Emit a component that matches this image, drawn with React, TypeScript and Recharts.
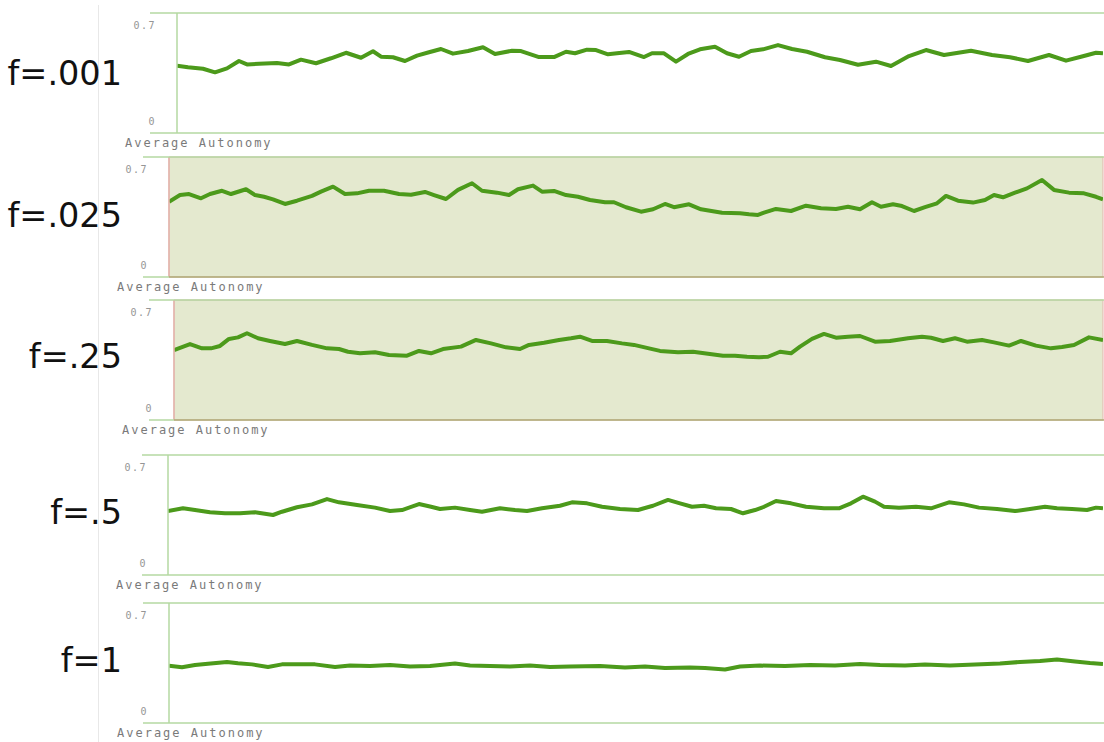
import { LineChart, Line, XAxis, YAxis, ReferenceArea } from "recharts";

const FREQ_LABELS = ["f=.001", "f=.025", "f=.25", "f=.5", "f=1"];
const Y_TICKS = [0, 0.7];
const AXIS_TITLE = "Average Autonomy";

// [step, average autonomy] for each mutation frequency
const RUN_001: [number, number][] = [
  [0, 0.393], [11, 0.383], [26, 0.375], [38, 0.354], [50, 0.377], [62, 0.42], [70, 0.4], [82, 0.404],
  [100, 0.408], [112, 0.4], [124, 0.428], [139, 0.407], [154, 0.436], [169, 0.468], [184, 0.439],
  [196, 0.477], [204, 0.445], [216, 0.442], [228, 0.42], [240, 0.451], [252, 0.471], [264, 0.49],
  [276, 0.463], [291, 0.478], [306, 0.5], [318, 0.461], [335, 0.48], [344, 0.478], [362, 0.443],
  [377, 0.443], [389, 0.474], [398, 0.465], [410, 0.486], [419, 0.484], [431, 0.459], [440, 0.465],
  [452, 0.473], [467, 0.443], [475, 0.465], [487, 0.465], [499, 0.416], [511, 0.461], [523, 0.488],
  [538, 0.503], [550, 0.465], [562, 0.445], [574, 0.478], [586, 0.488], [601, 0.513], [615, 0.49],
  [630, 0.474], [648, 0.442], [663, 0.426], [681, 0.398], [699, 0.416], [714, 0.391], [732, 0.449],
  [749, 0.484], [767, 0.455], [794, 0.48], [815, 0.455], [833, 0.442], [851, 0.42], [872, 0.455],
  [889, 0.422], [904, 0.445], [919, 0.468], [926, 0.465],
];

const RUN_025: [number, number][] = [
  [0, 0.439], [11, 0.478], [20, 0.484], [32, 0.459], [41, 0.484], [53, 0.503], [62, 0.484], [77, 0.512],
  [86, 0.478], [95, 0.468], [104, 0.453], [116, 0.426], [128, 0.445], [143, 0.473], [152, 0.498],
  [164, 0.527], [176, 0.484], [188, 0.488], [200, 0.503], [215, 0.503], [230, 0.484], [242, 0.48],
  [256, 0.496], [265, 0.478], [277, 0.455], [289, 0.508], [303, 0.547], [313, 0.503], [328, 0.492],
  [340, 0.478], [349, 0.512], [364, 0.533], [373, 0.498], [385, 0.502], [397, 0.478], [409, 0.468],
  [421, 0.449], [436, 0.436], [445, 0.436], [457, 0.407], [472, 0.381], [484, 0.395], [496, 0.426],
  [505, 0.407], [520, 0.424], [532, 0.395], [553, 0.375], [571, 0.372], [580, 0.366], [589, 0.362],
  [595, 0.375], [607, 0.397], [622, 0.385], [637, 0.416], [652, 0.401], [667, 0.397], [679, 0.41],
  [691, 0.395], [703, 0.436], [712, 0.41], [724, 0.424], [733, 0.414], [745, 0.385], [756, 0.407],
  [768, 0.43], [777, 0.473], [789, 0.445], [804, 0.434], [816, 0.449], [825, 0.478], [834, 0.465],
  [846, 0.492], [858, 0.517], [873, 0.566], [885, 0.508], [900, 0.492], [915, 0.488], [927, 0.468],
  [934, 0.453],
];

const RUN_25: [number, number][] = [
  [0, 0.408], [16, 0.443], [28, 0.418], [37, 0.418], [46, 0.432], [55, 0.473], [64, 0.482], [73, 0.506],
  [84, 0.477], [96, 0.461], [111, 0.443], [123, 0.461], [138, 0.438], [153, 0.418], [165, 0.414],
  [174, 0.398], [186, 0.389], [201, 0.395], [215, 0.379], [233, 0.375], [245, 0.403], [257, 0.389],
  [269, 0.414], [287, 0.428], [302, 0.467], [317, 0.447], [332, 0.424], [346, 0.414], [355, 0.438],
  [370, 0.451], [385, 0.467], [397, 0.477], [406, 0.486], [418, 0.461], [433, 0.461], [448, 0.447],
  [460, 0.438], [475, 0.418], [486, 0.403], [504, 0.395], [519, 0.398], [534, 0.387], [549, 0.375],
  [561, 0.375], [573, 0.369], [585, 0.366], [594, 0.369], [606, 0.398], [617, 0.389], [626, 0.428],
  [638, 0.473], [650, 0.502], [662, 0.48], [674, 0.486], [686, 0.49], [701, 0.457], [716, 0.461],
  [734, 0.477], [748, 0.486], [757, 0.48], [769, 0.461], [781, 0.477], [793, 0.457], [808, 0.467],
  [820, 0.453], [835, 0.434], [847, 0.461], [862, 0.434], [877, 0.418], [888, 0.426], [900, 0.438],
  [915, 0.482], [929, 0.467],
];

const RUN_5: [number, number][] = [
  [0, 0.373], [15, 0.389], [27, 0.379], [42, 0.366], [57, 0.36], [72, 0.36], [87, 0.366], [105, 0.35],
  [114, 0.369], [129, 0.395], [144, 0.412], [159, 0.443], [171, 0.424], [189, 0.408], [207, 0.393],
  [222, 0.373], [234, 0.379], [251, 0.414], [263, 0.398], [272, 0.385], [287, 0.393], [302, 0.379],
  [314, 0.369], [332, 0.389], [347, 0.379], [359, 0.373], [374, 0.389], [392, 0.404], [404, 0.424],
  [419, 0.418], [434, 0.398], [452, 0.385], [470, 0.379], [485, 0.404], [500, 0.438], [512, 0.418],
  [524, 0.398], [536, 0.404], [548, 0.389], [563, 0.385], [575, 0.36], [587, 0.379], [596, 0.398],
  [608, 0.432], [623, 0.418], [638, 0.398], [656, 0.389], [671, 0.389], [683, 0.418], [695, 0.457],
  [707, 0.428], [716, 0.398], [731, 0.393], [748, 0.398], [763, 0.389], [781, 0.424], [796, 0.412],
  [811, 0.393], [829, 0.385], [847, 0.373], [862, 0.385], [877, 0.398], [889, 0.389], [904, 0.385],
  [919, 0.379], [928, 0.393], [935, 0.389],
];

const RUN_1: [number, number][] = [
  [0, 0.334], [13, 0.325], [26, 0.338], [39, 0.346], [58, 0.356], [69, 0.348], [83, 0.342], [99, 0.327],
  [113, 0.342], [133, 0.342], [146, 0.342], [166, 0.327], [181, 0.335], [201, 0.333], [221, 0.338],
  [241, 0.33], [261, 0.333], [286, 0.347], [301, 0.335], [321, 0.333], [341, 0.33], [361, 0.335],
  [381, 0.327], [401, 0.33], [431, 0.333], [456, 0.324], [476, 0.33], [496, 0.321], [521, 0.324],
  [536, 0.321], [556, 0.312], [571, 0.33], [591, 0.335], [616, 0.333], [641, 0.338], [666, 0.335],
  [691, 0.344], [711, 0.338], [736, 0.335], [756, 0.341], [781, 0.335], [806, 0.341], [831, 0.347],
  [851, 0.356], [871, 0.362], [888, 0.37], [906, 0.359], [921, 0.35], [934, 0.344],
];

const RUNS = [RUN_001, RUN_025, RUN_25, RUN_5, RUN_1];

// panel geometry in page pixels
const PANELS = [
  { top: 13, left: 177, ruleFrom: 150, shaded: false, labelY: 85 },
  { top: 157, left: 169, ruleFrom: 143, shaded: true, labelY: 227 },
  { top: 300, left: 174, ruleFrom: 149, shaded: true, labelY: 368 },
  { top: 455, left: 168, ruleFrom: 142, shaded: false, labelY: 524 },
  { top: 603, left: 169, ruleFrom: 143, shaded: false, labelY: 672 },
];

const WIDTH = 1104;
const HEIGHT = 742;
const PLOT_H = 120;
const PLOT_RIGHT = 1103;
const LINE_COLOR = "#4c9a1b";
const RULE_COLOR = "#b5d9a2";
const SHADE = "#e4e9cf";
const SHADE_EDGE = "#e3b5ad";
const MONO = "'DejaVu Sans Mono', monospace";

function makeTick(left: number) {
  return (props: any) => {
    const v = props.payload.value;
    return (
      <text
        x={left - 21}
        y={v > 0 ? props.y + 12 : props.y - 12}
        textAnchor="end"
        dominantBaseline="central"
        fontFamily={MONO}
        fontSize={10}
        letterSpacing={1.5}
        fill="#959595"
      >
        {v === 0 ? "0" : v.toFixed(1)}
      </text>
    );
  };
}

function Panel({ index }: { index: number }) {
  const p = PANELS[index];
  const span = PLOT_RIGHT - p.left;
  const data = RUNS[index].map(([step, value]) => ({ step, value }));
  return (
    <LineChart
      width={WIDTH}
      height={PLOT_H + 4}
      data={data}
      margin={{ top: 2, right: WIDTH - PLOT_RIGHT, bottom: 2, left: 0 }}
      style={{ position: "absolute", left: 0, top: p.top - 2 }}
    >
      <XAxis dataKey="step" type="number" domain={[0, span]} hide allowDataOverflow />
      <YAxis
        type="number"
        domain={[0, 0.7]}
        ticks={Y_TICKS}
        width={p.left}
        tickLine={false}
        axisLine={{ stroke: p.shaded ? SHADE_EDGE : RULE_COLOR, strokeWidth: 1.5 }}
        tick={makeTick(p.left)}
        interval={0}
      />
      {p.shaded && (
        <ReferenceArea
          x1={0}
          x2={span}
          y1={0}
          y2={0.7}
          fill={SHADE}
          fillOpacity={1}
          stroke={SHADE_EDGE}
          strokeWidth={1}
        />
      )}
      <Line
        type="linear"
        dataKey="value"
        stroke={LINE_COLOR}
        strokeWidth={4}
        strokeLinejoin="round"
        dot={false}
        isAnimationActive={false}
      />
    </LineChart>
  );
}

export default function App() {
  return (
    <div
      style={{
        position: "absolute",
        left: 0,
        top: 0,
        width: WIDTH,
        height: HEIGHT,
        background: "#fff",
        overflow: "hidden",
      }}
    >
      {PANELS.map((_, i) => (
        <Panel key={i} index={i} />
      ))}
      <svg
        width={WIDTH}
        height={HEIGHT}
        style={{ position: "absolute", left: 0, top: 0, pointerEvents: "none" }}
      >
        <line x1={98.5} x2={98.5} y1={5} y2={HEIGHT} stroke="#e8e8e8" strokeWidth={1} />
        {PANELS.map((p, i) => {
          const bottom = p.top + PLOT_H;
          return (
            <g key={i}>
              <line x1={p.ruleFrom} x2={WIDTH} y1={p.top} y2={p.top} stroke={RULE_COLOR} strokeWidth={1.5} />
              <line x1={p.ruleFrom} x2={p.left} y1={bottom} y2={bottom} stroke={RULE_COLOR} strokeWidth={1.5} />
              <line
                x1={p.left}
                x2={WIDTH}
                y1={bottom}
                y2={bottom}
                stroke={p.shaded ? "#aeab76" : RULE_COLOR}
                strokeWidth={1.5}
              />
              <text
                x={122}
                y={p.labelY}
                textAnchor="end"
                fontFamily="'DejaVu Sans', sans-serif"
                fontSize={33.5}
                fill="#111"
              >
                {FREQ_LABELS[i]}
              </text>
              <text
                x={p.left - 52}
                y={bottom + 10}
                dominantBaseline="central"
                fontFamily={MONO}
                fontSize={12}
                letterSpacing={2}
                fill="#7a7a7a"
              >
                {AXIS_TITLE}
              </text>
            </g>
          );
        })}
      </svg>
    </div>
  );
}
